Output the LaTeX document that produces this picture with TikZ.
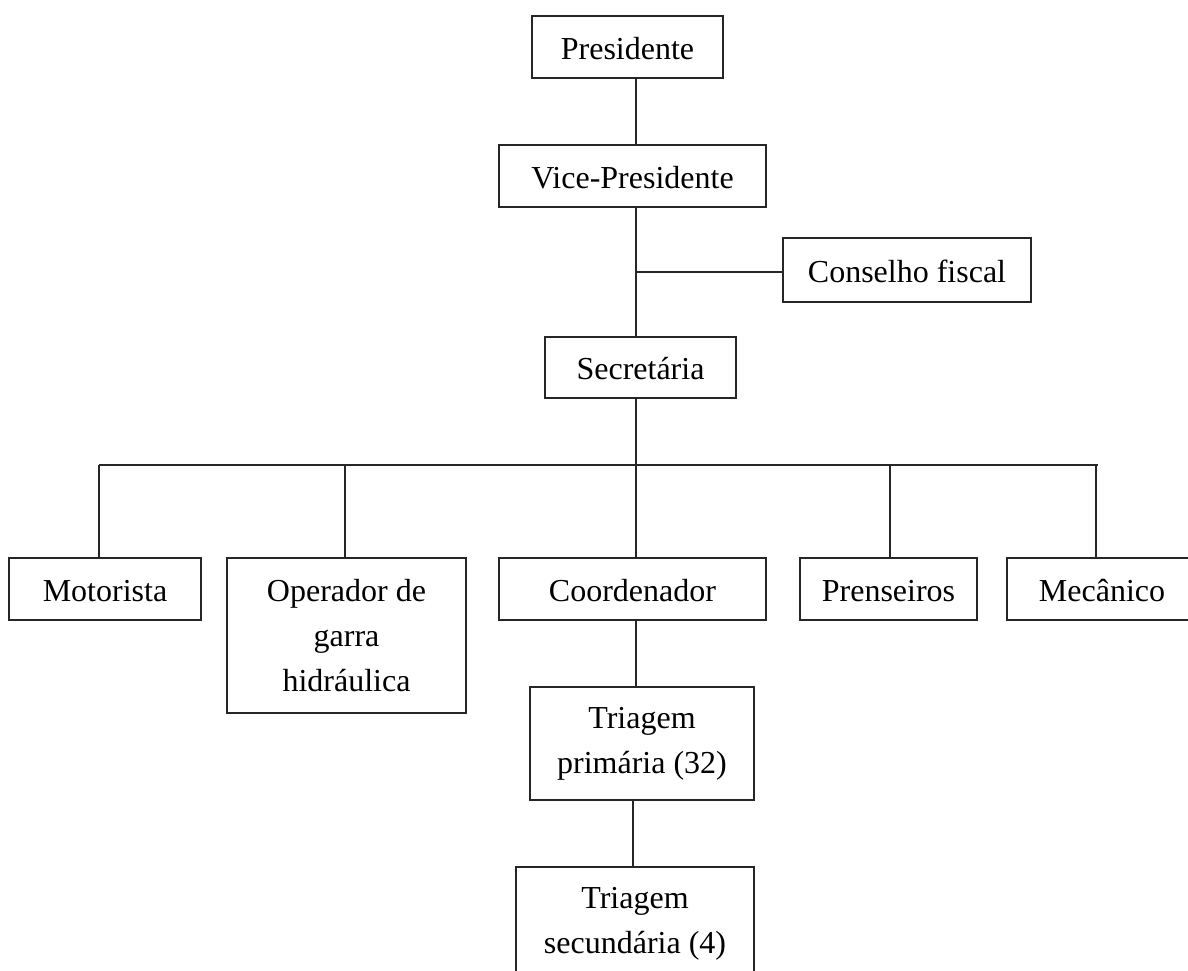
\documentclass[tikz,border=0pt]{standalone}
\usepackage{fontspec}
\setmainfont{Liberation Serif}
\begin{document}
\begin{tikzpicture}[x=0.5pt,y=-0.5pt,
  box/.style={draw=black!85, line width=0.9pt, inner sep=0pt, align=center,
    font=\fontsize{16}{22.5}\selectfont},
  one/.style={text height=14pt, text depth=2pt},
  conn/.style={draw=black!85, line width=0.9pt}]
\clip (0,0) rectangle (1188,970);
\fill[white] (0,0) rectangle (1188,970);
% nodes
\node[box,one,minimum width=95.5pt,minimum height=31pt] (pres) at (627.5,47) {Presidente};
\node[box,one,minimum width=133.5pt,minimum height=31pt] (vice) at (632.5,176) {Vice-Presidente};
\node[box,one,minimum width=124pt,minimum height=32pt] (cons) at (907,270) {Conselho fiscal};
\node[box,one,minimum width=95.5pt,minimum height=30.5pt] (sec) at (640.5,367.5) {Secretária};
\node[box,one,minimum width=96pt,minimum height=31pt] (mot) at (105,589) {Motorista};
\node[box,minimum width=119.5pt,minimum height=77.5pt] (oper) at (346.5,635.5) {Operador de\\garra\\hidráulica};
\node[box,one,minimum width=133.5pt,minimum height=31pt] (coord) at (632.5,589) {Coordenador};
\node[box,one,minimum width=88.5pt,minimum height=31pt] (pren) at (888.5,589) {Prenseiros};
\node[box,one,minimum width=95pt,minimum height=31pt] (mec) at (1102,589) {Mecânico};
\node[box,minimum width=112pt,minimum height=56.5pt] (tp) at (642,743.5) {Triagem\\primária (32)};
\node[box,minimum width=119pt,minimum height=56.5pt] (ts) at (635,923.5) {Triagem\\secundária (4)};
% helper coordinates
\coordinate (spine) at (636,0);
\coordinate (cj) at (636,272);
\coordinate (bus) at (0,465);
\coordinate (busL) at (99,465);
\coordinate (busR) at (1098,465);
\coordinate (dmot) at (99,0);
\coordinate (doper) at (345,0);
\coordinate (dpren) at (890,0);
\coordinate (dmec) at (1096,0);
\coordinate (tsx) at (633,0);
% connectors
\draw[conn] (pres.south -| spine) -- (vice.north -| spine);
\draw[conn] (vice.south -| spine) -- (sec.north -| spine);
\draw[conn] (cj) -- (cons.west |- cj);
\draw[conn] (sec.south -| spine) -- (bus -| spine);
\draw[conn] (busL) -- (busR);
\draw[conn] (busL) -- (mot.north -| dmot);
\draw[conn] (bus -| doper) -- (oper.north -| doper);
\draw[conn] (bus -| spine) -- (coord.north -| spine);
\draw[conn] (bus -| dpren) -- (pren.north -| dpren);
\draw[conn] (bus -| dmec) -- (mec.north -| dmec);
\draw[conn] (coord.south -| spine) -- (tp.north -| spine);
\draw[conn] (tp.south -| tsx) -- (ts.north -| tsx);
\end{tikzpicture}
\end{document}
